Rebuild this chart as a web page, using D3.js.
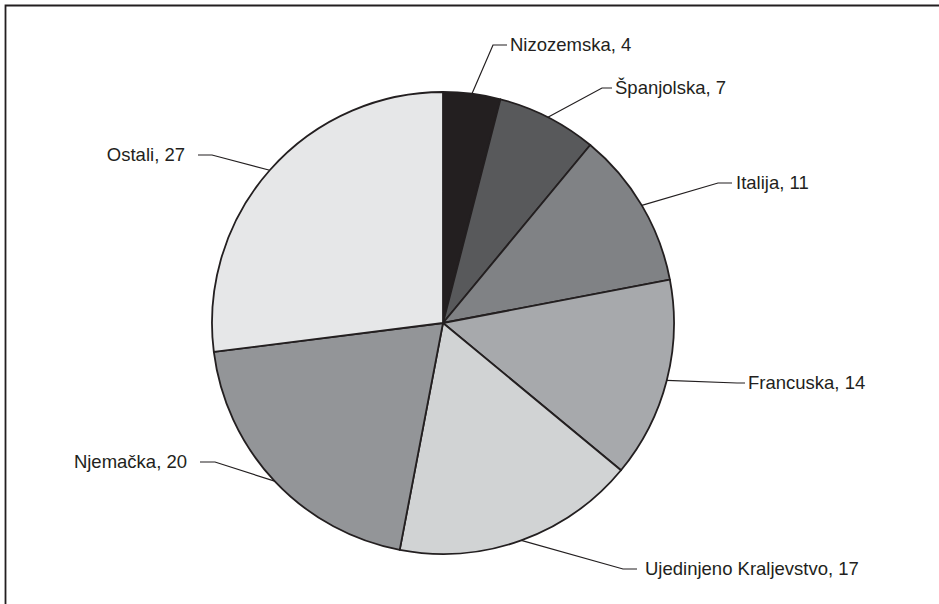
<!DOCTYPE html>
<html>
<head>
<meta charset="utf-8">
<script src="https://cdn.jsdelivr.net/npm/d3@7"></script>
<style>
  html, body { margin: 0; padding: 0; background: #fff; }
  svg { display: block; }
  text { font-family: "Liberation Sans", Arial, sans-serif; font-size: 18.5px; fill: #231f20; }
</style>
</head>
<body>
<svg id="chart" width="939" height="604"></svg>
<script>
// ---- data ----
const categories = ["Nizozemska", "Španjolska", "Italija", "Francuska", "Ujedinjeno Kraljevstvo", "Njemačka", "Ostali"];
const values = [4, 7, 11, 14, 17, 20, 27];
const colors = ["#231f20", "#58595b", "#808285", "#a7a9ac", "#d1d3d4", "#939598", "#e6e7e8"];

// ---- label layout (elbow of leader line relative to pie centre, horizontal lead, gap before text) ----
const labelElbows = [[50, -278], [159, -235], [275, -140], [294, 60], [180, 246], [-228, 139], [-231, -168]];
const labelLeads = [14, 10, 14, 8, 14, 15, 14];
const labelGaps = [3, 3, 4, 3, 8, 13, 13];

const W = 939, H = 604;
const cx = 443, cy = 323, R = 231;
const svg = d3.select("#chart");

// frame (left and top edges)
svg.append("path")
  .attr("d", `M5.5,${H} V5.5 H${W}`)
  .attr("fill", "none")
  .attr("stroke", "#231f20")
  .attr("stroke-width", 1.8);

const data = categories.map((c, i) => ({
  name: c, value: values[i], color: colors[i],
  elbow: labelElbows[i], lead: labelLeads[i], gap: labelGaps[i]
}));

const pie = d3.pie().value(d => d.value).sort(null);
const arcs = pie(data);
const arc = d3.arc().innerRadius(0).outerRadius(R);

const g = svg.append("g").attr("transform", `translate(${cx},${cy})`);

g.selectAll("path.slice")
  .data(arcs)
  .join("path")
  .attr("class", "slice")
  .attr("d", arc)
  .attr("fill", d => d.data.color)
  .attr("stroke", "#231f20")
  .attr("stroke-width", 1.8)
  .attr("stroke-linejoin", "round");

arcs.forEach(a => {
  const mid = (a.startAngle + a.endAngle) / 2;
  const px = R * Math.sin(mid), py = -R * Math.cos(mid);
  const [ex, ey] = a.data.elbow;
  const right = ex > 0;
  const hx = right ? ex + a.data.lead : ex - a.data.lead;
  g.append("polyline")
    .attr("points", `${px},${py} ${ex},${ey} ${hx},${ey}`)
    .attr("fill", "none")
    .attr("stroke", "#231f20")
    .attr("stroke-width", 1.2);
  g.append("text")
    .attr("x", right ? hx + a.data.gap : hx - a.data.gap)
    .attr("y", ey)
    .attr("dy", "0.35em")
    .attr("text-anchor", right ? "start" : "end")
    .text(`${a.data.name}, ${a.data.value}`);
});
</script>
</body>
</html>
